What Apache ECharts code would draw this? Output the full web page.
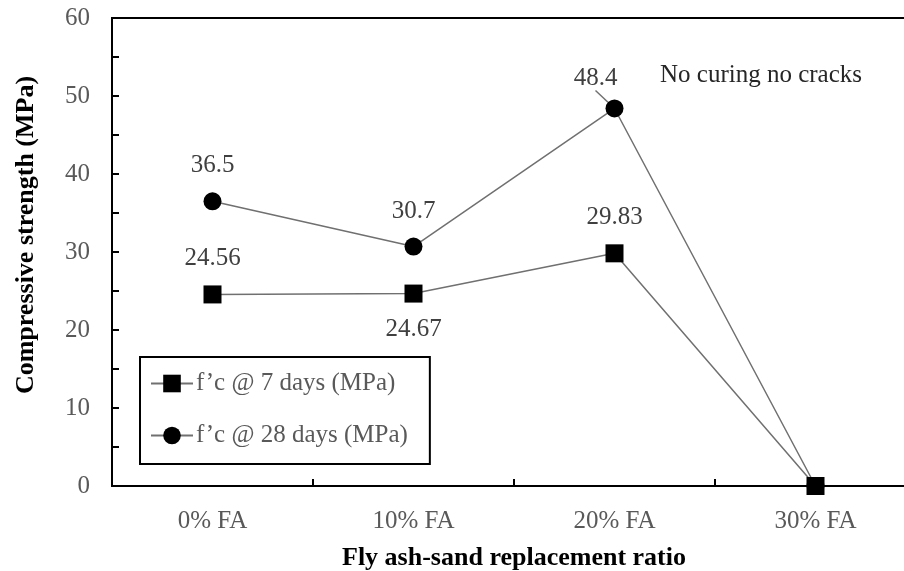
<!DOCTYPE html>
<html>
<head>
<meta charset="utf-8">
<script src="https://cdn.jsdelivr.net/npm/echarts@6/dist/echarts.min.js"></script>
<style>
  html, body { margin: 0; padding: 0; background: #fff; }
  #chart { width: 904px; height: 571px; }
</style>
</head>
<body>
<div id="chart"></div>
<script>
  // 数据
  var categories = ["0% FA", "10% FA", "20% FA", "30% FA"];
  var fc7 = [24.56, 24.67, 29.83, 0];
  var fc28 = [36.5, 30.7, 48.4, 0];
  var seriesNames = ["f\u2019c @ 7 days (MPa)", "f\u2019c @ 28 days (MPa)"];
  // 7天的标签：上 / 下 / 上
  var fc7LabelPos = ["top", "bottom", "top", "none"];

  var serif = "Liberation Serif";
  var chart = echarts.init(document.getElementById("chart"));

  var option = {
    animation: false,
    grid: {
      left: 112,
      top: 18,
      width: 804,
      bottom: 85,
      containLabel: false,
      outerBoundsMode: "none",
      show: true,
      borderColor: "#000",
      borderWidth: 2
    },
    legend: {
      orient: "vertical",
      left: 140,
      top: 357,
      itemWidth: 42,
      itemHeight: 22,
      itemGap: 27,
      padding: [14, 22, 16, 10],
      borderColor: "#000",
      borderWidth: 2,
      textStyle: {
        fontFamily: serif,
        fontSize: 25,
        color: "#595959",
        padding: [0, 0, 0, -2]
      },
      data: seriesNames
    },
    xAxis: {
      type: "category",
      data: categories,
      boundaryGap: true,
      axisLine: { lineStyle: { color: "#000", width: 2 } },
      axisTick: { show: true, inside: true, length: 7, lineStyle: { color: "#000", width: 2 } },
      axisLabel: {
        fontFamily: serif,
        fontSize: 25,
        color: "#595959",
        margin: 23
      },
      name: "Fly ash-sand replacement ratio",
      nameLocation: "middle",
      nameGap: 59,
      nameTextStyle: {
        fontFamily: serif,
        fontSize: 26,
        fontWeight: "bold",
        color: "#000"
      }
    },
    yAxis: {
      type: "value",
      min: 0,
      max: 60,
      interval: 10,
      axisLine: { show: true, lineStyle: { color: "#000", width: 2 } },
      axisTick: { show: true, inside: true, length: 7, lineStyle: { color: "#000", width: 2 } },
      minorTick: { show: true, splitNumber: 2, length: 7, lineStyle: { color: "#000", width: 2 } },
      splitLine: { show: false },
      axisLabel: {
        fontFamily: serif,
        fontSize: 25,
        color: "#595959",
        margin: 22
      },
      name: "Compressive strength (MPa)",
      nameLocation: "middle",
      nameGap: 73,
      nameTextStyle: {
        fontFamily: serif,
        fontSize: 26,
        fontWeight: "bold",
        color: "#000",
        padding: [0, 0, 0, 34]
      }
    },
    graphic: [{
      type: "text",
      left: 660,
      top: 63,
      style: {
        text: "No curing no cracks",
        font: "25px " + serif,
        fill: "#262626"
      }
    }],
    series: [
      {
        name: seriesNames[1],
        type: "line",
        data: fc28.map(function (v, i) {
          var item = { value: v };
          // 48.4 用引线标注
          if (i === 2) item.labelLine = { show: true };
          return item;
        }),
        symbol: "circle",
        symbolSize: 18,
        itemStyle: { color: "#000" },
        lineStyle: { color: "#707070", width: 1.5 },
        label: {
          show: true,
          position: "top",
          distance: 14,
          fontFamily: serif,
          fontSize: 25,
          color: "#404040",
          formatter: function (p) { return p.value === 0 ? "" : String(p.value); }
        },
        labelLine: { show: false, lineStyle: { color: "#707070", width: 1.5 } },
        labelLayout: function (p) {
          if (p.dataIndex === 2) {
            return { dx: -19, dy: 5 };
          }
        },
        z: 2
      },
      {
        name: seriesNames[0],
        type: "line",
        data: fc7.map(function (v, i) {
          return {
            value: v,
            label: { show: fc7LabelPos[i] !== "none", position: fc7LabelPos[i] === "none" ? "top" : fc7LabelPos[i] }
          };
        }),
        symbol: "rect",
        symbolSize: 18,
        itemStyle: { color: "#000" },
        lineStyle: { color: "#707070", width: 1.5 },
        label: {
          show: true,
          distance: 14,
          fontFamily: serif,
          fontSize: 25,
          color: "#404040"
        },
        z: 3
      }
    ]
  };

  chart.setOption(option);
</script>
</body>
</html>
